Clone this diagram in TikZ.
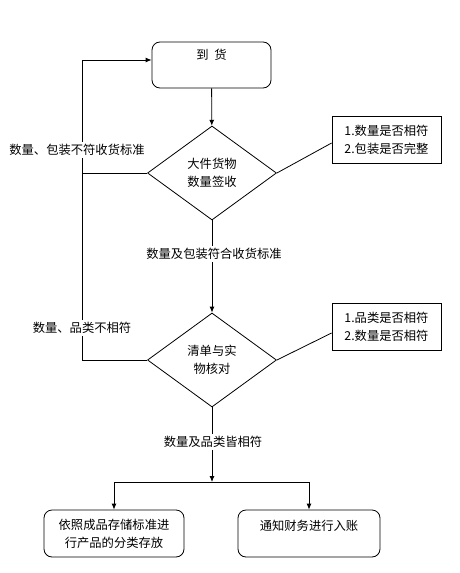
\documentclass[tikz,border=0pt]{standalone}
\usepackage{fontspec}
\setmainfont{Noto Sans CJK SC}
\usetikzlibrary{shapes.geometric,arrows.meta}

\begin{document}
\begin{tikzpicture}[
            x=1pt, y=-1pt,
            font=\fontsize{12.3}{18}\selectfont,
            line width=0.8pt,
            arrow/.style={-{Latex[length=6pt,width=5pt]}},
            roundbox/.style={draw, rounded corners=8pt, align=center, inner sep=0pt},
            checkbox/.style={draw, align=left, inner sep=0pt, minimum width=109pt, minimum height=47pt},
            decision/.style={draw, diamond, aspect=1.37, align=center, inner sep=0pt, minimum width=129pt, minimum height=94pt},
            note/.style={fill=white, inner sep=2pt},
        ]
            \useasboundingbox (0, 0) rectangle (460, 573);
            \node[roundbox, minimum width=119pt, minimum height=46pt] (arrive) at (211.5, 65) {\raisebox{6pt}[0pt][0pt]{到\ \ 货}};
            \node[decision] (bulk) at (212, 173) {大件货物\\数量签收};
            \node[checkbox] (checkA) at (386.5, 139.5) {1.数量是否相符\\2.包装是否完整};
            \node[decision] (match) at (212, 360) {清单与实\\物核对};
            \node[checkbox] (checkB) at (386.5, 326.5) {1.品类是否相符\\2.数量是否相符};
            \node[roundbox, minimum width=140pt, minimum height=47pt] (store) at (114, 533.5) {依照成品存储标准进\\行产品的分类存放};
            \node[roundbox, minimum width=142pt, minimum height=47pt] (finance) at (309, 533.5) {\raisebox{3pt}[0pt][0pt]{通知财务进行入账}};
            \coordinate (back) at (82, 60);
            \coordinate (split) at (212, 482);
            \path[arrow] (arrive) edge (bulk);
            \path (bulk.east) edge ([yshift=-3.5pt]checkA.west);
            \path (match.east) edge ([yshift=-6.5pt]checkB.west);
            \draw[arrow] (bulk) -- (match);
            \draw[arrow] (match) -- (split);
            \draw[arrow] (split) -| (store);
            \draw[arrow] (split) -| (finance);
            \draw (bulk.west) -- (bulk.west -| back);
            \draw[arrow] (match.west) -| (back) -- (arrive.west |- back);
            \node[note] (badPack) at (77, 150) {数量、包装不符收货标准};
            \node[note] (badKind) at (82, 328) {数量、品类不相符};
            \node[note] (okPack) at (214, 254) {数量及包装符合收货标准};
            \node[note] (okKind) at (213, 442) {数量及品类皆相符};
        \end{tikzpicture}
\end{document}
